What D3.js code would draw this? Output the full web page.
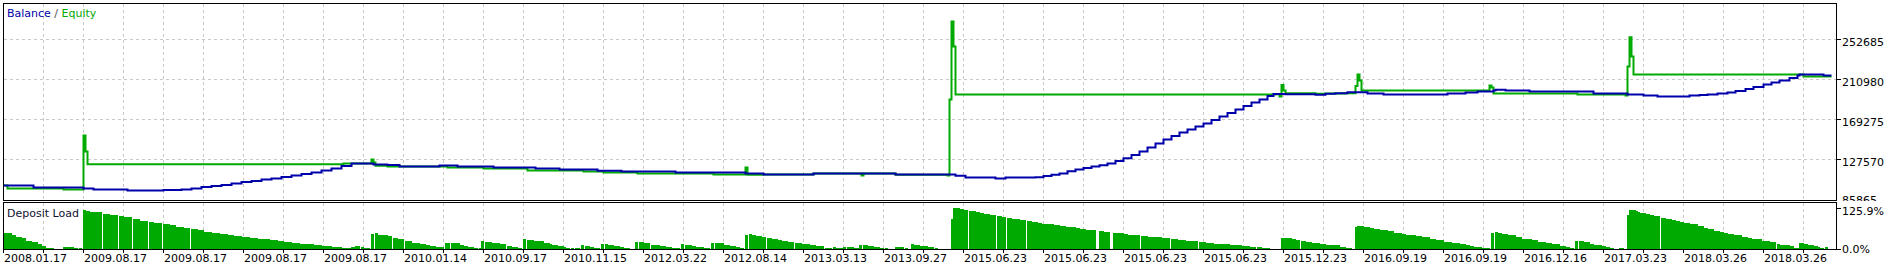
<!DOCTYPE html>
<html>
<head>
<meta charset="utf-8">
<script src="https://cdn.jsdelivr.net/npm/d3@7"></script>
<style>
  body { margin: 0; background: #fff; }
  svg { display: block; font-family: "DejaVu Sans", sans-serif; font-size: 11px; }
</style>
</head>
<body>
<div id="chart"></div>
<script>
const width = 1889;
const height = 266;

// x axis is the deal number, labels are the dates of those deals
const dateLabels = [
  "2008.01.17", "2009.08.17", "2009.08.17", "2009.08.17", "2009.08.17", "2010.01.14",
  "2010.09.17", "2010.11.15", "2012.03.22", "2012.08.14", "2013.03.13", "2013.09.27",
  "2015.06.23", "2015.06.23", "2015.06.23", "2015.06.23", "2015.12.23", "2016.09.19",
  "2016.09.19", "2016.12.16", "2017.03.23", "2018.03.26", "2018.03.26"
];
const priceTicks = [85865, 127570, 169275, 210980, 252685];
const loadTicks = [0, 125.9];

// [deal, value]
const balance = [
  [0, 100462], [15, 98376], [40, 97334], [45, 96291], [62, 95249], [80, 95770],
  [89, 96291], [94, 97334], [99, 98898], [104, 99940], [109, 100983], [114, 102547],
  [119, 104110], [124, 105153], [129, 106717], [134, 107760], [139, 109324], [144, 110888],
  [149, 112452], [154, 114016], [159, 116101], [164, 118186], [169, 120793], [174, 123400],
  [185, 122357], [192, 121836], [198, 120272], [218, 121314], [227, 120272], [245, 119229],
  [266, 118186], [278, 117144], [297, 115788], [309, 115058], [336, 114016], [371, 112973],
  [380, 111931], [405, 112973], [446, 111931], [476, 110541], [481, 108803], [496, 107760],
  [501, 108803], [516, 109115], [520, 110366], [524, 111617], [528, 112973], [532, 115371],
  [536, 117143], [540, 118707], [544, 120271], [548, 121522], [552, 123399], [556, 126005],
  [560, 128820], [564, 132261], [568, 135910], [572, 140080], [576, 144251], [580, 148421],
  [584, 152070], [588, 155719], [592, 158847], [596, 161975], [600, 165103], [604, 168752],
  [608, 172401], [612, 176050], [616, 179699], [620, 183348], [624, 186997], [628, 190125],
  [632, 193774], [635, 195859], [641, 195653], [656, 195027], [661, 196070], [666, 196696],
  [672, 197738], [682, 196383], [690, 195341], [722, 196383], [731, 197426], [737, 198468],
  [745, 199511], [746, 200241], [751, 199511], [763, 198468], [795, 196383], [812, 195341],
  [820, 194298], [827, 193255], [843, 194298], [848, 194820], [852, 195341], [857, 196383],
  [862, 197426], [866, 199000], [871, 201075], [875, 203160], [880, 205767], [884, 207852],
  [888, 209938], [893, 212545], [897, 215150], [898, 216193], [910, 215150], [914, 215150]
];

const equity = [
  [0, 100462], [2, 97334], [30, 96291], [39, 96291], [40, 152593], [41, 135911],
  [42, 122670], [170, 123400], [183, 123400], [184, 127570], [185, 124443], [186, 120975],
  [192, 120272], [222, 119229], [240, 118186], [262, 116101], [290, 115058], [300, 114016],
  [317, 112973], [355, 111931], [371, 119229], [372, 111618], [380, 111931], [405, 112973],
  [429, 110888], [430, 112973], [446, 111618], [472, 110888], [473, 190127], [474, 271452],
  [475, 245387], [476, 195341], [636, 195653], [638, 193255], [639, 205350], [640, 199511],
  [641, 196696], [656, 196070], [661, 196383], [671, 196696], [676, 204200], [677, 216193],
  [678, 209938], [679, 199511], [743, 204724], [744, 202638], [745, 196383], [787, 195341],
  [811, 194298], [812, 224534], [813, 255083], [814, 234960], [815, 216193], [900, 214108],
  [914, 214108]
];

// [from deal, to deal, load %]
const loadBars = [
  [0, 2, 50.2], [2, 4, 48.1], [4, 6, 43.0], [6, 9, 37.9], [9, 11, 32.8], [11, 14, 25.6],
  [14, 17, 20.5], [17, 19, 15.4], [19, 21, 10.2], [21, 23, 4.1], [23, 25, 2.0], [25, 27, 1.0],
  [28, 30, 1.0], [30, 31, 6.1], [31, 35, 6.1], [35, 37, 2.0], [38, 39, 2.0],
  [40, 41, 119.8], [41, 43, 117.8], [43, 45, 114.7], [45, 49, 112.6], [50, 53, 108.5],
  [53, 57, 105.5], [58, 60, 101.4], [60, 64, 97.3], [65, 68, 92.2], [68, 72, 87.0],
  [73, 75, 82.9], [75, 79, 78.8], [80, 83, 75.8], [83, 86, 72.7], [86, 90, 68.6],
  [90, 93, 64.5], [94, 97, 61.4], [97, 100, 57.3], [100, 104, 53.2], [104, 108, 50.2],
  [108, 112, 47.1], [112, 115, 44.0], [115, 119, 41.0], [119, 123, 37.9], [123, 127, 34.8],
  [127, 129, 31.7], [129, 133, 29.7], [133, 137, 26.6], [137, 140, 23.6], [140, 144, 20.5],
  [144, 148, 18.4], [148, 151, 16.4], [151, 155, 14.3], [155, 159, 12.3], [159, 164, 10.2],
  [164, 166, 7.2], [166, 169, 6.1], [169, 172, 4.1], [172, 174, 2.0], [174, 176, 6.1],
  [176, 178, 8.2], [179, 180, 6.1], [180, 183, 2.0], [184, 185, 46.1], [186, 187, 48.1],
  [187, 189, 44.0], [189, 192, 42.0], [192, 194, 38.9], [195, 197, 33.8], [197, 200, 29.7],
  [201, 204, 23.6], [204, 208, 19.5], [208, 211, 16.4], [211, 213, 12.3], [213, 216, 8.2],
  [216, 220, 5.1], [221, 223, 18.4], [224, 228, 17.4], [228, 230, 12.3], [230, 232, 9.2],
  [232, 235, 6.1], [235, 237, 3.1], [238, 239, 2.0], [239, 240, 25.6], [241, 244, 21.5],
  [244, 245, 19.5], [245, 248, 18.4], [248, 251, 14.3], [252, 254, 10.2], [254, 257, 6.1],
  [257, 258, 4.1], [258, 259, 2.0], [260, 261, 30.7], [262, 265, 27.6], [265, 267, 24.6],
  [267, 270, 23.6], [270, 273, 19.5], [273, 274, 15.4], [274, 277, 13.3], [277, 280, 9.2],
  [280, 281, 5.1], [281, 283, 2.0], [284, 285, 2.0], [286, 288, 2.0], [289, 290, 12.3],
  [291, 293, 8.2], [293, 295, 6.1], [295, 297, 2.0], [297, 298, 3.1], [299, 300, 15.4],
  [301, 302, 15.4], [302, 305, 12.3], [305, 308, 8.2], [308, 310, 5.1], [310, 313, 2.0],
  [316, 317, 21.5], [318, 320, 21.5], [320, 323, 19.5], [324, 328, 13.3], [328, 331, 10.2],
  [331, 334, 6.1], [334, 338, 3.1], [339, 340, 15.4], [341, 344, 12.3], [344, 346, 9.2],
  [346, 350, 7.2], [350, 353, 2.0], [354, 355, 18.4], [356, 360, 17.4], [360, 363, 13.3],
  [363, 366, 9.2], [366, 368, 6.1], [368, 370, 3.1], [371, 372, 44.0], [373, 374, 46.1],
  [374, 376, 44.0], [376, 379, 41.0], [379, 381, 37.9], [382, 384, 33.8], [384, 387, 30.7],
  [387, 389, 27.6], [389, 392, 25.6], [392, 395, 21.5], [396, 399, 18.4], [399, 403, 15.4],
  [403, 406, 12.3], [406, 410, 9.2], [411, 414, 3.1], [415, 416, 6.1], [416, 420, 2.0],
  [420, 421, 6.1], [422, 425, 5.1], [425, 428, 2.0], [428, 429, 12.3], [430, 432, 12.3],
  [432, 435, 9.2], [435, 438, 7.2], [438, 440, 3.1], [441, 442, 2.0], [446, 448, 5.1],
  [448, 450, 6.1], [451, 452, 2.0], [454, 455, 15.4], [455, 458, 12.3], [458, 461, 10.2],
  [461, 462, 9.2], [462, 465, 6.1], [466, 467, 2.0], [468, 469, 1.0], [471, 472, 1.0],
  [474, 475, 92.2], [475, 478, 125.9], [478, 480, 122.9], [480, 482, 119.8], [483, 486, 116.7],
  [486, 488, 113.7], [488, 490, 111.6], [490, 493, 108.5], [493, 496, 105.5], [497, 499, 101.4],
  [499, 501, 98.3], [502, 504, 95.2], [504, 508, 93.2], [508, 511, 89.1], [512, 514, 86.0],
  [514, 517, 82.9], [517, 519, 79.9], [519, 521, 77.8], [521, 525, 76.8], [525, 526, 74.8],
  [526, 528, 72.7], [528, 531, 70.7], [531, 533, 67.6], [533, 536, 66.6], [536, 538, 63.5],
  [538, 541, 61.4], [541, 544, 59.4], [544, 546, 57.3], [548, 550, 54.3], [550, 553, 52.2],
  [555, 558, 49.2], [558, 560, 48.1], [560, 562, 46.1], [562, 568, 44.0], [569, 572, 41.0],
  [572, 576, 37.9], [576, 579, 35.8], [579, 583, 32.8], [584, 587, 30.7], [587, 591, 28.7],
  [591, 597, 24.6], [598, 601, 21.5], [601, 605, 18.4], [605, 607, 16.4], [607, 613, 14.3],
  [613, 619, 11.3], [619, 623, 8.2], [623, 626, 6.1], [627, 629, 5.1], [629, 633, 2.0],
  [636, 637, 1.0], [639, 642, 33.8], [642, 644, 32.8], [644, 646, 30.7], [646, 648, 28.7],
  [649, 651, 24.6], [651, 654, 22.5], [654, 656, 19.5], [656, 658, 18.4], [658, 661, 15.4],
  [661, 664, 13.3], [664, 668, 11.3], [668, 670, 6.1], [670, 671, 6.1], [671, 674, 2.0],
  [676, 677, 67.6], [677, 680, 70.7], [680, 683, 67.6], [683, 685, 64.5], [685, 688, 61.4],
  [688, 692, 58.4], [692, 695, 55.3], [695, 699, 49.2], [699, 701, 45.1], [701, 706, 43.0],
  [706, 709, 38.9], [709, 713, 35.8], [713, 716, 30.7], [716, 720, 26.6], [720, 724, 22.5],
  [724, 728, 18.4], [728, 731, 15.4], [731, 733, 12.3], [733, 735, 8.2], [735, 739, 6.1],
  [739, 741, 2.0], [741, 743, 2.0], [744, 745, 48.1], [746, 747, 52.2], [747, 749, 49.2],
  [749, 752, 46.1], [752, 756, 43.0], [756, 759, 35.8], [759, 762, 31.7], [762, 764, 30.7],
  [764, 767, 27.6], [767, 771, 22.5], [771, 774, 19.5], [774, 776, 16.4], [776, 778, 14.3],
  [778, 781, 9.2], [781, 783, 6.1], [783, 785, 2.0], [786, 787, 24.6], [788, 790, 23.6],
  [790, 793, 20.5], [793, 795, 16.4], [795, 799, 13.3], [799, 801, 10.2], [801, 803, 6.1],
  [803, 805, 2.0], [808, 810, 2.0], [812, 813, 104.4], [813, 815, 119.8], [815, 816, 118.8],
  [816, 817, 116.7], [817, 818, 114.7], [818, 821, 111.6], [821, 823, 107.5], [823, 825, 105.5],
  [825, 828, 102.4], [829, 831, 96.3], [831, 834, 93.2], [834, 836, 90.1], [836, 838, 86.0],
  [838, 840, 84.0], [840, 843, 78.8], [843, 847, 76.8], [847, 850, 69.6], [850, 852, 63.5],
  [852, 855, 60.4], [855, 858, 56.3], [858, 860, 53.2], [860, 862, 50.2], [862, 865, 46.1],
  [865, 869, 43.0], [869, 872, 37.9], [872, 874, 34.8], [874, 879, 30.7], [879, 883, 24.6],
  [883, 886, 21.5], [887, 888, 15.4], [888, 893, 13.3], [893, 895, 8.2], [895, 898, 4.1],
  [898, 900, 19.5], [900, 902, 15.4], [902, 905, 13.3], [905, 907, 10.2], [907, 908, 7.2],
  [908, 910, 4.1], [911, 912, 6.1]
];

const blue = "#0000aa";
const green = "#00aa00";
const gridColor = "#c8c8c8";

const frameL = 3.5, frameR = 1836.5;
const mainTop = 3.5, mainBottom = 200.5;
const subTop = 202.5, subBottom = 249.5;

const x = d3.scaleLinear().domain([0, 916]).range([3.5, 1835.5]);
const y = d3.scaleLinear().domain([priceTicks[0], priceTicks[priceTicks.length - 1]]).range([199.5, 39.5]);
const yLoad = d3.scaleLinear().domain(loadTicks).range([249, 208]);

const svg = d3.select("#chart").append("svg")
    .attr("width", width)
    .attr("height", height)
    .attr("viewBox", [0, 0, width, height]);

svg.append("rect").attr("width", width).attr("height", height).attr("fill", "#fff");

const defs = svg.append("defs");
defs.append("clipPath").attr("id", "main-clip")
  .append("rect").attr("x", frameL).attr("y", mainTop).attr("width", frameR - frameL).attr("height", mainBottom - mainTop);
defs.append("clipPath").attr("id", "axis-clip")
  .append("rect").attr("x", 0).attr("y", 0).attr("width", width).attr("height", 201);

// grid
const gridDeals = d3.range(20, 901, 20);
const grid = svg.append("g")
    .attr("stroke", gridColor)
    .attr("stroke-dasharray", "3,3")
    .attr("shape-rendering", "crispEdges");

grid.selectAll(".vgrid-main")
  .data(gridDeals)
  .join("line")
    .attr("x1", d => x(d)).attr("x2", d => x(d))
    .attr("y1", mainTop).attr("y2", mainBottom);

grid.selectAll(".vgrid-sub")
  .data(gridDeals)
  .join("line")
    .attr("x1", d => x(d)).attr("x2", d => x(d))
    .attr("y1", subTop).attr("y2", subBottom);

grid.selectAll(".hgrid")
  .data(priceTicks.slice(1))
  .join("line")
    .attr("x1", frameL).attr("x2", frameR)
    .attr("y1", d => y(d)).attr("y2", d => y(d));

// deposit load bars
svg.append("g")
    .attr("fill", green)
    .attr("shape-rendering", "crispEdges")
  .selectAll("rect")
  .data(loadBars)
  .join("rect")
    .attr("x", d => x(d[0]) - 0.5)
    .attr("width", d => x(d[1]) - x(d[0]) + 1)
    .attr("y", d => yLoad(d[2]))
    .attr("height", d => yLoad(0) - yLoad(d[2]));

// balance / equity lines
const line = d3.line()
    .x(d => x(d[0]))
    .y(d => y(d[1]))
    .curve(d3.curveStepAfter);

const lines = svg.append("g").attr("clip-path", "url(#main-clip)");

lines.append("path")
    .datum(equity)
    .attr("fill", "none")
    .attr("stroke", green)
    .attr("stroke-width", 2)
    .attr("d", line);

lines.append("path")
    .datum(balance)
    .attr("fill", "none")
    .attr("stroke", blue)
    .attr("stroke-width", 2)
    .attr("d", line);

// frames
const frames = svg.append("g")
    .attr("fill", "none")
    .attr("stroke", "#000")
    .attr("shape-rendering", "crispEdges");

frames.append("rect")
    .attr("x", frameL).attr("y", mainTop)
    .attr("width", frameR - frameL).attr("height", mainBottom - mainTop);

frames.append("rect")
    .attr("x", frameL).attr("y", subTop)
    .attr("width", frameR - frameL).attr("height", subBottom - subTop);

// bottom ticks
frames.selectAll(".xtick")
  .data([0, ...gridDeals])
  .join("line")
    .attr("x1", d => x(d)).attr("x2", d => x(d))
    .attr("y1", subBottom).attr("y2", subBottom + 3);

// right ticks
frames.selectAll(".ytick")
  .data(priceTicks.slice(1))
  .join("line")
    .attr("x1", frameR).attr("x2", frameR + 4)
    .attr("y1", d => y(d)).attr("y2", d => y(d));

frames.selectAll(".ltick")
  .data(loadTicks)
  .join("line")
    .attr("x1", frameR).attr("x2", frameR + 4)
    .attr("y1", d => Math.round(yLoad(d)) + 0.5).attr("y2", d => Math.round(yLoad(d)) + 0.5);

// x labels
svg.append("g")
    .attr("fill", "#000")
  .selectAll("text")
  .data(dateLabels)
  .join("text")
    .attr("x", (d, i) => x(i * 40) + 0.5)
    .attr("y", 262)
    .text(d => d);

// price labels
svg.append("g")
    .attr("fill", "#000")
    .attr("clip-path", "url(#axis-clip)")
  .selectAll("text")
  .data(priceTicks)
  .join("text")
    .attr("x", 1842)
    .attr("y", (d, i) => i === 0 ? y(d) + 4.5 : y(d) + 6)
    .text(d => d);

// load labels
svg.append("g")
    .attr("fill", "#000")
  .selectAll("text")
  .data(loadTicks)
  .join("text")
    .attr("x", 1842)
    .attr("y", d => d === 0 ? yLoad(d) + 4 : yLoad(d) + 7)
    .text(d => d.toFixed(1) + "%");

// captions
const legend = svg.append("text")
    .attr("x", 7)
    .attr("y", 17);
legend.append("tspan").attr("fill", blue).text("Balance");
legend.append("tspan").attr("fill", "#555").text(" / ");
legend.append("tspan").attr("fill", green).text("Equity");

svg.append("text")
    .attr("x", 7)
    .attr("y", 217)
    .attr("fill", "#101030")
    .text("Deposit Load");
</script>
</body>
</html>
